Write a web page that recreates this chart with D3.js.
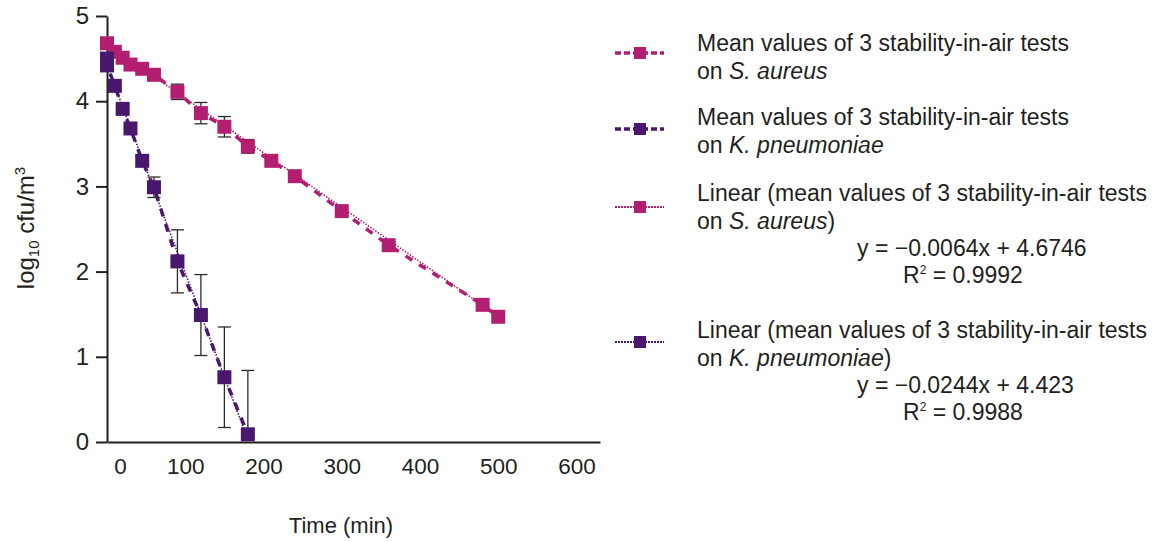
<!DOCTYPE html>
<html>
<head>
<meta charset="utf-8">
<script src="https://cdn.jsdelivr.net/npm/d3@7"></script>
<style>
  body { margin: 0; background: #fff; }
  text { font-family: "Liberation Sans", Arial, sans-serif; fill: #231f20; }
</style>
</head>
<body>
<svg width="1152" height="542"></svg>
<script>
// data
var timesS = [0, 10, 20, 30, 45, 60, 90, 120, 150, 180, 210, 240, 300, 360, 480, 500];
var meanS  = [4.68, 4.58, 4.51, 4.43, 4.38, 4.31, 4.11, 3.86, 3.70, 3.47, 3.30, 3.12, 2.71, 2.31, 1.61, 1.47];
var errS   = [0.03, 0.03, 0.03, 0.03, 0.03, 0.04, 0.09, 0.125, 0.12, 0.08, 0.03, 0.03, 0.03, 0.03, 0.03, 0.03];

var timesK = [0, 0, 10, 20, 30, 45, 60, 90, 120, 150, 180];
var meanK  = [4.50, 4.42, 4.18, 3.91, 3.68, 3.30, 2.99, 2.12, 1.49, 0.76, 0.09];
var errK   = [0.03, 0.03, 0.03, 0.03, 0.03, 0.05, 0.12, 0.37, 0.475, 0.59, 0.75];

// linear trend lines (from the legend)
var trendSlope = [-0.0064, -0.0244];
var trendIntercept = [4.6746, 4.423];
var trendR2 = ["0.9992", "0.9988"];
var speciesNames = ["S. aureus", "K. pneumoniae"];

var xTicks = [0, 100, 200, 300, 400, 500, 600];
var yTicks = [0, 1, 2, 3, 4, 5];

var colS = "#b31e70", colK = "#4a176f";
var ink = "#231f20";

var svg = d3.select('svg');

var x = d3.scaleLinear().domain([0, 630]).range([107, 600]);
var y = d3.scaleLinear().domain([0, 5]).range([442, 16]);

// axes
var xAxis = svg.append('g')
    .attr('transform', 'translate(0,' + y(0) + ')')
    .call(d3.axisBottom(x).tickValues(xTicks).tickSize(0).tickSizeOuter(0).tickPadding(16));
xAxis.selectAll('text').style('font-size', '22.5px').attr('fill', ink);
// the "0" label sits a little right of the axis in the original
xAxis.selectAll('.tick').filter(function(d){ return d === 0; }).select('text').attr('x', 13);

var yAxis = svg.append('g')
    .attr('transform', 'translate(' + x(0) + ',0)')
    .call(d3.axisLeft(y).tickValues(yTicks).tickFormat(d3.format('d')).tickSize(11).tickSizeOuter(0).tickPadding(7));
yAxis.selectAll('text').style('font-size', '24px').attr('fill', ink);

[xAxis, yAxis].forEach(function(a){
    a.select('.domain').attr('stroke', ink).attr('stroke-width', 2);
    a.selectAll('line').attr('stroke', ink).attr('stroke-width', 2);
});

svg.append('text')
    .text('Time (min)')
    .attr('x', 341).attr('y', 533)
    .style('font-size', '22px')
    .style('text-anchor', 'middle');

var ylab = svg.append('text')
    .attr('transform', 'translate(34,228)rotate(-90)')
    .style('font-size', '24px')
    .style('text-anchor', 'middle');
ylab.append('tspan').text('log');
ylab.append('tspan').text('10').style('font-size', '15px').attr('dy', 5);
ylab.append('tspan').text(' cfu/m').attr('dy', -5);
ylab.append('tspan').text('3').style('font-size', '15px').attr('dy', -9);

// plot
svg.append('clipPath').attr('id', 'plotclip')
  .append('rect').attr('x', x(0) - 20).attr('y', 0).attr('width', 600).attr('height', y(0) - 1);

var plot = svg.append('g').attr('clip-path', 'url(#plotclip)');

var series = [
    {t: timesS, m: meanS, e: errS, col: colS, k: 0},
    {t: timesK, m: meanK, e: errK, col: colK, k: 1}
];

var line = d3.line().x(function(d){ return x(d[0]); }).y(function(d){ return y(d[1]); });

series.forEach(function(s){
    var pts = s.t.map(function(t, i){ return [t, s.m[i], s.e[i]]; });
    var t0 = d3.min(s.t), t1 = d3.max(s.t);

    // trend line
    plot.append('path')
        .datum([t0, t1].map(function(t){ return [t, trendSlope[s.k] * t + trendIntercept[s.k]]; }))
        .attr('d', line)
        .attr('fill', 'none')
        .attr('stroke', s.col)
        .attr('stroke-width', 1.6)
        .attr('stroke-dasharray', '1.5,1.5');

    // series line
    plot.append('path')
        .datum(pts)
        .attr('d', line)
        .attr('fill', 'none')
        .attr('stroke', s.col)
        .attr('stroke-width', 3.5)
        .attr('stroke-dasharray', '8,8');

    // error bars
    var eb = plot.selectAll(null).data(pts).enter().append('g')
        .attr('stroke', '#2b2b2b').attr('stroke-width', 1.3);
    eb.append('line')
        .attr('x1', function(d){ return x(d[0]); }).attr('x2', function(d){ return x(d[0]); })
        .attr('y1', function(d){ return y(d[1] + d[2]); }).attr('y2', function(d){ return y(d[1] - d[2]); });
    eb.append('line')
        .attr('x1', function(d){ return x(d[0]) - 6.5; }).attr('x2', function(d){ return x(d[0]) + 6.5; })
        .attr('y1', function(d){ return y(d[1] + d[2]); }).attr('y2', function(d){ return y(d[1] + d[2]); });
    eb.append('line')
        .attr('x1', function(d){ return x(d[0]) - 6.5; }).attr('x2', function(d){ return x(d[0]) + 6.5; })
        .attr('y1', function(d){ return y(d[1] - d[2]); }).attr('y2', function(d){ return y(d[1] - d[2]); });
});

// markers on top
series.forEach(function(s){
    var pts = s.t.map(function(t, i){ return [t, s.m[i]]; });
    svg.selectAll(null).data(pts).enter().append('rect')
        .attr('x', function(d){ return x(d[0]) - 7; })
        .attr('y', function(d){ return y(d[1]) - 7; })
        .attr('width', 14).attr('height', 14)
        .attr('fill', s.col);
});

// legend
var legend = svg.append('g');
var legendRows = [
    {y: 53, dash: '6,3', w: 3.5, col: colS, lines: [[["Mean values of 3 stability-in-air tests", false]], [["on ", false], [speciesNames[0], true]]]},
    {y: 129, dash: '6,3', w: 3.5, col: colK, lines: [[["Mean values of 3 stability-in-air tests", false]], [["on ", false], [speciesNames[1], true]]]},
    {y: 207, dash: '2,1', w: 2, col: colS, lines: [[["Linear (mean values of 3 stability-in-air tests", false]], [["on ", false], [speciesNames[0], true], [")", false]]], k: 0},
    {y: 342, dash: '2,1', w: 2, col: colK, lines: [[["Linear (mean values of 3 stability-in-air tests", false]], [["on ", false], [speciesNames[1], true], [")", false]]], k: 1}
];
var textTop = [51, 125, 201, 338];

legendRows.forEach(function(r, i){
    legend.append('line')
        .attr('x1', 615).attr('x2', 664).attr('y1', r.y).attr('y2', r.y)
        .attr('stroke', r.col).attr('stroke-width', r.w).attr('stroke-dasharray', r.dash);
    legend.append('rect')
        .attr('x', 640 - 6).attr('y', r.y - 6).attr('width', 12).attr('height', 12)
        .attr('fill', r.col);
    r.lines.forEach(function(segs, j){
        var t = legend.append('text')
            .attr('x', 697).attr('y', textTop[i] + j * 28)
            .style('font-size', '23px');
        segs.forEach(function(sg){
            t.append('tspan').text(sg[0]).style('font-style', sg[1] ? 'italic' : 'normal');
        });
    });
    if (r.k !== undefined) {
        var b = textTop[i] + 2 * 28 - 1;
        var sl = Math.abs(trendSlope[r.k]);
        legend.append('text')
            .attr('x', 857).attr('y', b)
            .style('font-size', '23px')
            .text('y = \u2212' + sl.toFixed(4) + 'x + ' + trendIntercept[r.k]);
        var rt = legend.append('text')
            .attr('x', 903).attr('y', b + 27)
            .style('font-size', '23px');
        rt.append('tspan').text('R');
        rt.append('tspan').text('2').style('font-size', '12px').attr('dy', -9);
        rt.append('tspan').text(' = ' + trendR2[r.k]).attr('dy', 9);
    }
});
</script>
</body>
</html>
